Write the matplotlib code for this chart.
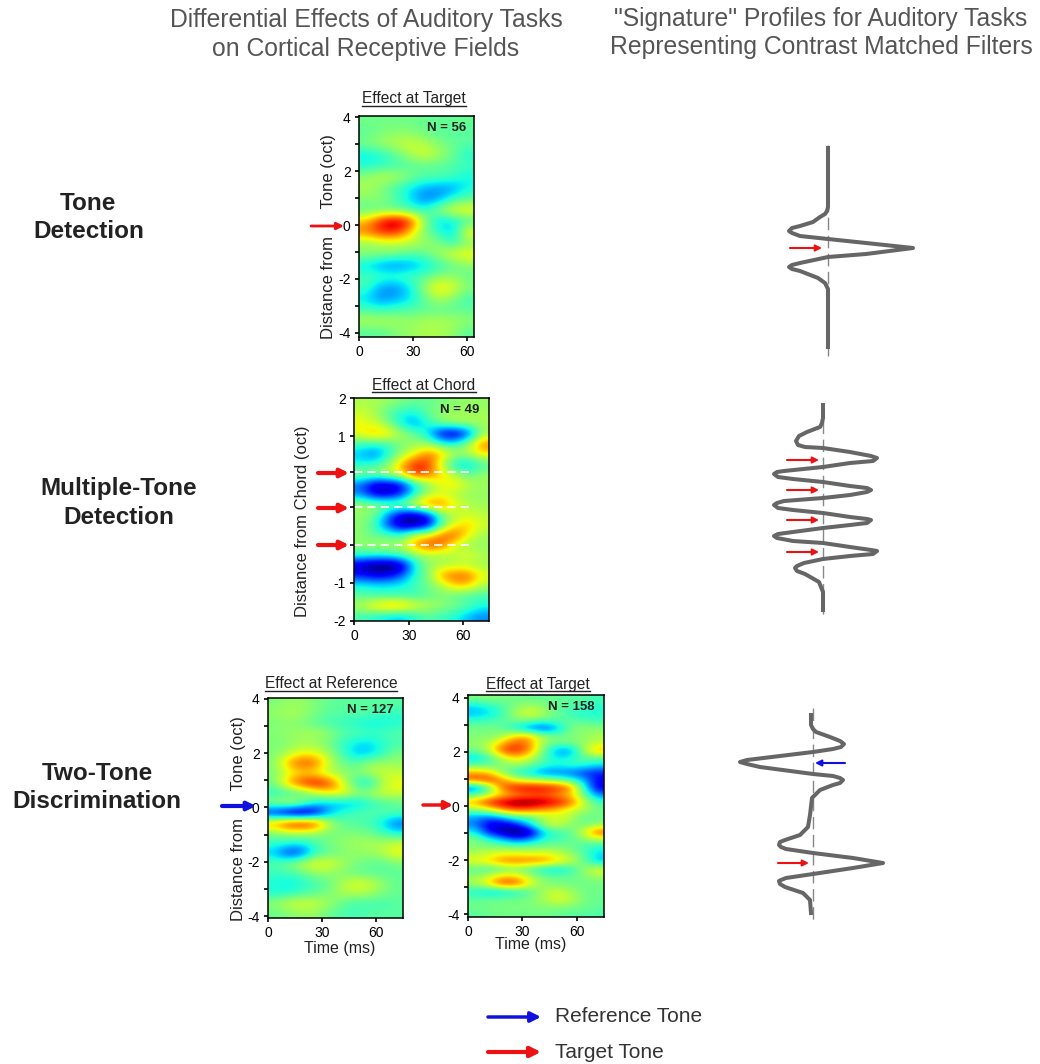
import matplotlib
matplotlib.use('Agg')
import matplotlib.pyplot as plt
import numpy as np

plt.rcParams['font.family'] = ['Liberation Sans', 'DejaVu Sans']

W, H = 1040, 1064

# grids, rows run top to bottom, columns left to right
tone_grid = [
    [.2, .2, .2, .2, .1, .1, .1, .1],
    [0, .3, .4, .4, .2, 0, 0, 0],
    [.3, .6, .8, 1, .8, .4, .1, 0],
    [-.7, -.5, 0, .6, 1.1, .7, .2, -.5],
    [-.5, -.4, -.2, -.1, 0, 0, -.1, -.2],
    [.5, .9, .8, .4, 0, 0, -.2, -.6],
    [.7, .3, -.2, -.7, -1.1, -1.3, -1.3, -.6],
    [.4, .5, 0, -.7, -1.5, -1.3, -.4, 0],
    [0, 0, 0, -.2, -.4, .5, 1.3, 1.4],
    [1.7, 3.1, 3.8, 3.1, .7, -.9, -.8, -.2],
    [2.3, 2.9, 3, 1.8, .3, -.3, -1, 1.4],
    [.4, .7, .8, .8, .6, .4, -.4, .3],
    [.5, .4, .3, 0, 0, .6, 1.2, 1.4],
    [-.8, -1.3, -1.5, -1.3, -.8, -.4, 0, .4],
    [-.1, -.2, -.2, -.1, -.1, .4, .5, .1],
    [-.2, -1.2, -1.4, -.8, .5, 1.5, 1.2, .4],
    [-.8, -1.4, -1.2, -.8, 0, .8, .4, -.2],
    [-.2, -.4, -.2, -.1, 0, 0, 0, 0],
    [.8, .8, .7, .5, .7, .7, .7, .5],
    [0, 0, .3, .5, .7, .7, .5, 0],
]

chord_grid = [
    [.7, .7, .5, .3, .1, .1, .3, .4, .5, .5],
    [1, .7, 0, -.5, -.6, .1, .5, .6, .6, .6],
    [1.3, 1, .4, -.7, -1.3, -.4, .4, .7, .7, .7],
    [1.3, 1.9, 1.6, .7, .1, -.8, -2.8, -3.1, -2, .5],
    [-.2, -.3, -.2, .3, .5, .5, -.3, -.5, .7, 2.3],
    [-1, -1.6, -.6, .5, 1.3, 2.3, 1.8, .8, .8, 1.5],
    [-.5, -.4, .3, 1.8, 2.9, 2.8, .8, -.8, -1, -.2],
    [.5, .5, 1, 1.5, 3, 2.5, 1.5, .7, 0, .5],
    [-1.6, -2.8, -3, -2.5, -.7, .4, 1.3, 1.5, .8, .6],
    [-1.4, -2.6, -2.8, -2.1, -.5, .7, 1, .7, .5, .5],
    [.7, .5, .5, .5, 1.5, 2.5, 2.3, 1.3, .7, .6],
    [.4, .3, -1.3, -2.6, -3, -2.2, .2, .7, 1, .8],
    [.5, -.2, -1.9, -3.3, -3.3, -2.8, -.2, 1.3, 1.7, 1],
    [.4, 0, 0, -.3, 1, 1.3, 2.4, 2.6, 1.3, .6],
    [.5, .7, .7, .7, 2.1, 2.8, 2.5, 1, .5, .5],
    [-.3, -.4, -.3, 0, .3, .7, .6, .8, 1.2, .7],
    [-3, -3.5, -3.6, -3.2, -.7, .5, .7, .8, .7, .6],
    [-2.2, -2.6, -2.5, -1.8, -.4, .3, 2.1, 2.5, 2.5, 1.2],
    [-.5, -.6, -.6, -.5, -.2, .2, .7, 1.7, 1.6, .7],
    [0, -.2, -.3, -.3, -.3, 0, .3, 0, -.2, -.2],
    [.8, 1.6, 2.1, 2.1, 1.3, .8, .5, .3, 0, -.5],
    [-.2, -.5, -.8, -1, -.5, 0, -.3, -.5, -1.1, -1.4],
]

reference_grid = [
    [.3, .5, .5, .3, .1, 0, 0, 0, 0, 0],
    [.5, .7, .6, .3, 0, 0, 0, 0, -.2, -.3],
    [.3, .4, .3, 0, -.2, -.3, -.5, -.7, -.6, -.5],
    [.4, .5, .6, .7, .5, 0, 0, -.2, -.2, 0],
    [.3, .4, .6, .5, .2, -.3, -.7, -.8, -.4, -.2],
    [.3, .7, 1.2, 1.2, .6, -.2, -1, -1, -.4, .3],
    [.4, 2, 2.7, 2.5, 1, .2, 0, .5, .6, .5],
    [.3, 1, 1.4, 1.2, .7, .5, .3, .7, 1, .9],
    [.3, 2, 3, 3.4, 2.9, 1.2, -.3, -.8, .7, 1.3],
    [-.5, -.5, -.2, .7, 1.3, 1.5, .7, .7, 1.1, 1],
    [.7, 1.2, .7, -.5, -1, -1.1, -1, -.5, -.2, 0],
    [-2.7, -3.6, -3.9, -3.1, -1.2, -.4, -.1, 0, 0, 0],
    [2.3, 3.4, 3.6, 3.2, 1, .1, -.1, -.2, -.8, -1.7],
    [.3, .6, .6, .5, .2, .3, .3, .2, -.2, -.6],
    [-.3, -.4, -.5, -.2, .3, .5, .6, .7, .7, 1],
    [-1, -2.2, -2, -.4, 0, .3, .5, .5, .8, 1.3],
    [0, .3, 1, 1.3, 1.2, .7, .3, .1, 0, .3],
    [-.3, -.2, 0, .5, .5, .3, .1, 0, 0, 0],
    [-.5, -.7, -.5, -.2, .1, .7, 1.2, 1, .5, .1],
    [-.5, -.5, -.2, 0, .3, .7, .8, .7, .3, .1],
    [.5, 1, 1.1, 1, .6, .1, -.2, -.2, -.2, 0],
    [.1, .3, .5, .5, .1, -.1, -.2, 0, 0, 0],
]

target_grid = [
    [.3, .4, .3, .2, .1, .1, .1, 0, 0, -.2],
    [-.8, -.5, -.1, .3, .7, .4, .1, 0, -.2, -.4],
    [-1, -.8, -.3, .7, 1.2, .8, .1, -.3, -.5, -.5],
    [-.3, -.2, 0, .2, .2, -.1, 0, .1, -.1, -.2],
    [.3, .3, .1, -.7, -1.5, -2, -1.2, .2, .5, .4],
    [.3, .3, .5, 1.6, 1.8, .6, .2, .3, .4, .7],
    [.5, .7, 1.8, 2.6, 2.2, .6, .2, .3, .5, .9],
    [.2, .8, 2.6, 3, 2.2, .3, -1.2, -1.4, .6, 1.9],
    [-1, -.3, .8, 1.6, 1, 0, -.7, -.5, 0, .1],
    [.1, .1, .3, .5, .2, -.3, -.5, -.3, -.4, -.8],
    [2, 1.7, .5, -.4, -.8, -1.4, -1.6, -1.6, -2, -2.2],
    [2.6, 3, 2.2, 1.1, .8, .6, .4, -.2, -1, -2.4],
    [-1.8, -.2, 2.4, 3.2, 3.4, 3.3, 3, 2.4, -.3, -2.6],
    [0, .8, 1.4, 2, 2.2, 2.4, 2, 1.6, .3, -1.4],
    [2, 3, 3.6, 3.9, 3.9, 3.7, 3.3, 2.6, 1, -.2],
    [.4, 1, 2, 2.6, 2.5, 2, 1.7, 1, .8, .2],
    [-1.2, -1.6, -1, -.2, 0, .6, 1, .9, 0, .2],
    [-1.4, -2.6, -2.8, -2.2, -.8, .6, 1.2, .4, .2, .4],
    [-.6, -2.2, -3, -3.6, -3.2, -.9, -.3, 0, 1, 2.6],
    [.4, -.4, -1, -1.8, -1.4, -.5, -.2, 0, .4, .8],
    [.3, .4, .3, .2, .2, .3, .3, .2, -.2, -.5],
    [.8, 1, 1.3, 1.3, 1.2, 1.3, 1, .6, 0, -.8],
    [1.2, 1.6, 2.2, 2.4, 2.3, 2.2, 1.7, 1, .2, -1],
    [0, -.3, 0, .2, -.1, -.7, -.9, -.5, .5, 1.2],
    [.5, 1, 1.6, 1.6, .8, .2, .1, .1, .3, .6],
    [.7, 1.5, 2.8, 2.7, 1.4, .4, .3, .2, .2, .2],
    [-.5, -.9, -.9, -.5, -.1, .6, 1, .6, .2, .2],
    [0, 0, .1, .1, .3, .6, 1.2, .9, .3, .1],
    [.2, .3, .3, .3, .3, .4, .5, .4, .2, .1],
    [0, .1, .2, .2, .2, .2, .1, 0, 0, -.1],
]

# signature traces: amplitude against position down the page
tone_amp = [0, 0, -1, -3, -8, -15, -28, -36, -39, -36, -28, 0, 38, 85, 38, 0, -28, -36, -39, -36,
            -28, -10, -3, 0, 0]
tone_pos = [148, 207, 211, 214, 217, 222, 226, 228, 231, 233, 236, 239, 243, 248, 254, 257, 263,
            265, 267, 269, 271, 278, 283, 289, 347]

chord_amp = [0, 0, -1, -3, -16, -24, -27, -25, -18, 0, 27, 48, 54, 50, 27, 0, -39, -46, -49, -45,
             -30, 0, 27, 44, 48, 44, 27, 0, -39, -46, -49, -45, -30, 0, 27, 44, 48, 44, 27, 0,
             -30, -45, -49, -46, -30, 0, 27, 48, 54, 50, 27, 0, -19, -26, -28, -26, -18, -4, 0, 0]
chord_pos = [405, 418, 423, 427, 432, 436, 441, 445, 447, 448, 452, 456, 458, 461, 463, 467, 471,
             472, 474, 477, 479, 482, 486, 488, 490, 492, 495, 498, 501, 503, 505, 508, 510, 513,
             517, 519, 520, 523, 525, 528, 532, 534, 536, 538, 541, 543, 547, 550, 551, 554, 556,
             559, 563, 566, 568, 571, 574, 582, 592, 610]

two_tone_amp = [-2, -2, 0, 3, 17, 27, 31, 28, 20, 0, -33, -66, -73, -66, -53, 0, 20, 27, 30, 27,
                20, 7, -1, -3, -5, -13, -28, -33, -34, -32, -27, 0, 40, 70, 40, 0, -27, -32, -34,
                -33, -28, -10, -3, -2]
two_tone_pos = [715, 725, 729, 732, 737, 741, 744, 747, 749, 752, 756, 760, 762, 764, 767, 774, 776,
                778, 780, 783, 785, 790, 798, 815, 827, 835, 840, 842, 845, 847, 849, 853, 858,
                863, 868, 874, 878, 880, 881, 884, 887, 893, 900, 913]

time_ticks = [0, 30, 60]
oct_ticks = [4, 3, 2, 1, 0, -1, -2, -3, -4]
oct_labels = ['4', '', '2', '', '0', '', '-2', '', '-4']
chord_ticks = [1.527, 1, .52, .03, -.49, -1, -1.527]
chord_labels = ['2', '1', '', '', '', '-1', '-2']
chord_lines = [.52, .03, -.49]

fig = plt.figure(figsize=(W / 100, H / 100), dpi=100)


def box(x0, y0, x1, y1, **kw):
    return fig.add_axes([x0 / W, 1 - y1 / H, (x1 - x0) / W, (y1 - y0) / H], **kw)


def panel(grid, rect, xmax, ylim, yticks, ylabels, n_text):
    ax = box(*rect)
    ax.imshow(grid, cmap='jet', vmin=-3.2, vmax=3.8, aspect='auto', interpolation='bicubic',
              extent=[0, xmax, ylim[0], ylim[1]])
    ax.set_xlim(0, xmax)
    ax.set_ylim(ylim)
    ax.set_xticks(time_ticks)
    ax.set_yticks(yticks)
    ax.set_yticklabels(ylabels)
    ax.tick_params(length=3, width=1.2, labelsize=10, pad=3)
    for s in ax.spines.values():
        s.set_linewidth(1.1)
    ax.text(0.93, 0.945, n_text, transform=ax.transAxes, ha='right', va='center',
            fontsize=9.5, fontweight='bold', color='#222222')
    return ax


panel(tone_grid, (359, 116, 474, 337), 64, (-4.15, 4.04), oct_ticks, oct_labels, 'N = 56')
chord_ax = panel(chord_grid, (354, 398, 489, 621), 74, (-1.527, 1.527), chord_ticks, chord_labels, 'N = 49')
panel(reference_grid, (268, 698, 403, 918), 75, (-4.07, 4.03), oct_ticks, oct_labels, 'N = 127')
panel(target_grid, (468, 695, 604, 917), 75, (-4.1, 4.1), oct_ticks, oct_labels, 'N = 158')

for y in chord_lines:
    chord_ax.plot([0, 63], [y, y], color='white', lw=1.2, ls=(0, (5, 3)))

# page overlay in pixel units, for the text and arrows around the panels
page = fig.add_axes([0, 0, 1, 1], zorder=5)
page.set_xlim(0, W)
page.set_ylim(H, 0)
page.axis('off')
page.patch.set_alpha(0)

grey = '#555555'
page.text(366, 20, 'Differential Effects of Auditory Tasks', ha='center', va='center', fontsize=17.8, color=grey)
page.text(366, 49, 'on Cortical Receptive Fields', ha='center', va='center', fontsize=17.8, color=grey)
page.text(821, 19, '"Signature" Profiles for Auditory Tasks', ha='center', va='center', fontsize=17.8, color=grey)
page.text(821, 47, 'Representing Contrast Matched Filters', ha='center', va='center', fontsize=17.8, color=grey)

for txt, x, y in [('Tone', 88, 203), ('Detection', 89, 231),
                  ('Multiple-Tone', 119, 488), ('Detection', 119, 517),
                  ('Two-Tone', 97, 774), ('Discrimination', 97, 802)]:
    page.text(x, y, txt, ha='center', va='center', fontsize=17.5, fontweight='bold', color='#222222')

fig.canvas.draw()
renderer = fig.canvas.get_renderer()
for txt, x, y in [('Effect at Target', 414, 99), ('Effect at Chord', 424, 385),
                  ('Effect at Reference', 331, 684), ('Effect at Target', 538, 684)]:
    t = page.text(x, y, txt, ha='center', va='center', fontsize=11.2, color='#222222')
    width = t.get_window_extent(renderer).width
    page.plot([x - width / 2, x + width / 2], [y + 7, y + 7], color='#222222', lw=1)

for txt, x, y0 in [('Distance from      Tone (oct)', 328, 237), ('Distance from Chord (oct)', 303, 521),
                   ('Distance from      Tone (oct)', 239, 819)]:
    page.text(x, y0, txt, rotation=90, ha='center', va='center', fontsize=12, color='#222222')
page.text(340, 949, 'Time (ms)', ha='center', va='center', fontsize=11.5, color='#222222')
page.text(531, 945, 'Time (ms)', ha='center', va='center', fontsize=11.5, color='#222222')

# signature traces
for amp, pos, centre, top, bottom in [(tone_amp, tone_pos, 828, 145, 356),
                                      (chord_amp, chord_pos, 823, 403, 616),
                                      (two_tone_amp, two_tone_pos, 813, 708, 920)]:
    page.plot([centre, centre], [top, bottom], color='#888888', lw=1, ls=(0, (9, 4)))
    page.plot(centre + np.array(amp), pos, color='#666666', lw=2.9, solid_joinstyle='round')


def arrow(x0, y, x1, color, lw=2, size=10):
    page.annotate('', xy=(x1, y), xytext=(x0, y),
                  arrowprops=dict(arrowstyle='-|>', color=color, lw=lw, shrinkA=0, shrinkB=0,
                                  mutation_scale=size))


red = '#ee1111'
blue = '#1111dd'
arrow(311, 226, 344, red)
for y in [473, 508, 545]:
    arrow(318, y, 349, red, lw=3, size=12)
arrow(222, 806, 256, blue, lw=3, size=12)
arrow(423, 805, 453, red, lw=2.5, size=12)
arrow(790, 248, 822, red, lw=1.5, size=9)
for y in [460, 490, 520, 552]:
    arrow(787, y, 819, red, lw=1.5, size=9)
arrow(845, 763, 815, blue, lw=1.5, size=9)
arrow(778, 863, 809, red, lw=1.5, size=9)
arrow(488, 1017, 541, blue, lw=2.5, size=15)
arrow(488, 1052, 541, red, lw=3, size=15)
page.text(555, 1017, 'Reference Tone', ha='left', va='center', fontsize=15, color='#333333')
page.text(555, 1052, 'Target Tone', ha='left', va='center', fontsize=15, color='#333333')

fig.savefig('out.png', dpi=100)
